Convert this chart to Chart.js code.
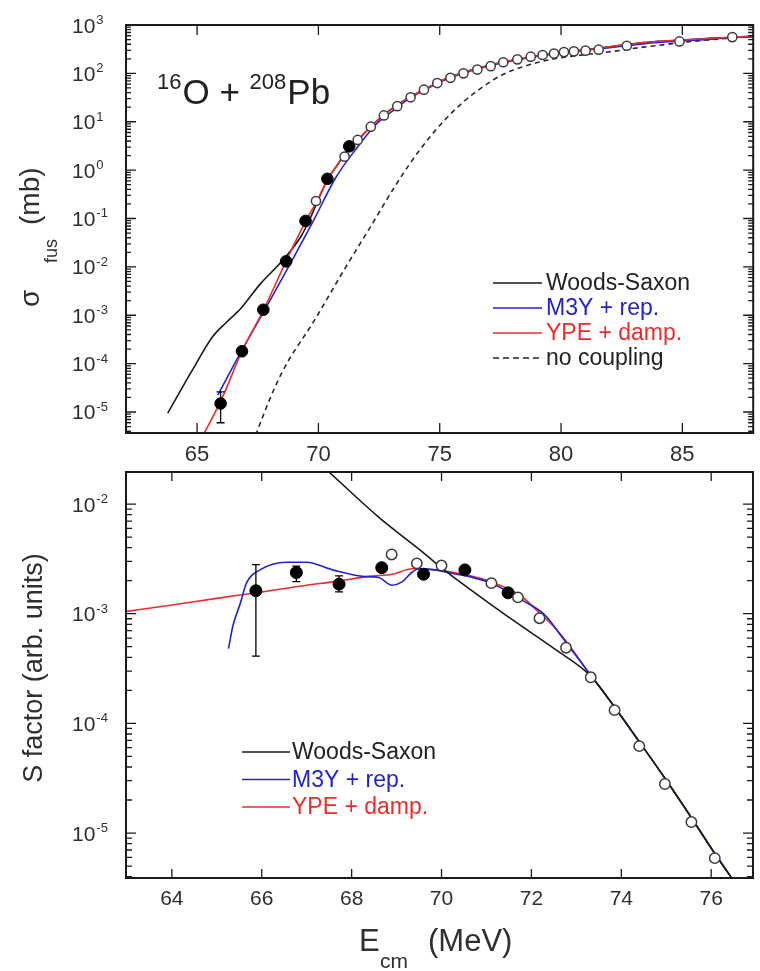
<!DOCTYPE html>
<html><head><meta charset="utf-8">
<script src="https://cdn.jsdelivr.net/npm/chart.js@4.4.0/dist/chart.umd.min.js"></script>
<style>
html,body{margin:0;padding:0;background:#fff;}
#wrap{position:relative;width:760px;height:971px;overflow:hidden;background:#fff;}
#c1{position:absolute;left:0;top:0;}
#c2{position:absolute;left:0;top:460px;}
</style></head><body>
<div id="wrap">
<canvas id="c1" width="760" height="475"></canvas>
<canvas id="c2" width="760" height="511"></canvas>
</div>
<script>
// ---------- tick labels ----------
const topXTicks = [65, 70, 75, 80, 85];
const topYTicks = [1e-5, 1e-4, 1e-3, 1e-2, 1e-1, 1, 10, 100, 1000];
const botXTicks = [64, 66, 68, 70, 72, 74, 76];
const botYTicks = [1e-5, 1e-4, 1e-3, 1e-2];

// ---------- top panel: sigma_fus (mb) vs Ecm ----------
const topFilledE = [65.97, 66.85, 67.73, 68.67, 69.47, 70.37, 71.27];
const topFilledSigma = [1.5e-5, 1.8e-4, 1.3e-3, 1.3e-2, 8.9e-2, 0.66, 3.1];
const topFilledErrLo = [6e-6, null, null, null, null, null, null];
const topFilledErrHi = [2.6e-5, null, null, null, null, null, null];

const topOpenE = [69.9, 71.08, 71.62, 72.16, 72.7, 73.25, 73.8, 74.35, 74.9, 75.44, 75.98, 76.55, 77.1, 77.62, 78.2, 78.75, 79.24, 79.71, 80.12, 80.53, 81.01, 81.55, 82.71, 84.88, 87.06];
const topOpenSigma = [0.23, 1.9, 4.2, 7.9, 13.5, 21, 32, 46, 63, 81, 100, 120, 141, 170, 195, 221, 240, 257, 275, 285, 295, 309, 372, 457, 562];

const topWsE = [63.79, 64.81, 65.63, 66.2, 66.8, 67.6, 68.5, 69.3, 69.7, 70.0, 70.37, 70.8, 71.27, 71.7, 72.16, 72.7, 73.2, 73.8, 74.4, 75, 76, 77, 78, 79, 80, 81, 82, 83, 84, 85, 86, 87, 87.92];
const topWsSigma = [9.5e-6, 7.4e-5, 3.55e-4, 7.1e-4, 1.38e-3, 4.4e-3, 1.32e-2, 4.4e-2, 0.112, 0.25, 0.63, 1.32, 2.9, 4.6, 7.9, 13.8, 21.4, 33, 47, 68, 105, 145, 186, 229, 269, 309, 355, 410, 460, 490, 525, 560, 580];

const topM3yE = [65.85, 66.85, 67.8, 68.9, 69.78, 70.7, 71.6, 72.4, 73.0, 73.8, 74.4, 75.0, 76.0, 77.0, 78.0, 79.0, 80.0, 81.0, 82.0, 83.0, 84.0, 85.0, 86.0, 87.0, 87.92];
const topM3ySigma = [2.24e-5, 1.9e-4, 1.32e-3, 1.32e-2, 8.7e-2, 0.68, 2.95, 9.1, 15.8, 31.6, 45.7, 66, 102, 141, 182, 224, 263, 302, 339, 389, 437, 468, 501, 550, 575];

const topYpeE = [65.3, 66.0, 66.85, 67.73, 68.67, 69.47, 69.96, 70.37, 70.8, 71.27, 71.7, 72.16, 72.7, 73.2, 73.8, 74.4, 75.0, 76.0, 77.0, 78.0, 79.0, 80.0, 81.0, 82.0, 83.0, 84.0, 85.0, 86.0, 87.0, 87.92];
const topYpeSigma = [3.7e-6, 1.8e-5, 1.8e-4, 1.26e-3, 1.32e-2, 8.7e-2, 0.24, 0.63, 1.32, 2.9, 4.6, 7.9, 13.8, 21.4, 33, 47, 68, 105, 145, 186, 229, 269, 309, 355, 410, 460, 490, 525, 560, 580];

const topNoCoupE = [67.3, 67.45, 68.48, 69.84, 71.06, 72.15, 73.24, 74.18, 75.1, 75.95, 76.89, 77.6, 78.5, 79.6, 81.2, 82.2, 83.2, 84.2, 85.0, 86.5, 87.92];
const topNoCoupSigma = [2.2e-6, 3.7e-6, 6.3e-5, 7.9e-4, 8.7e-3, 6.8e-2, 0.54, 2.63, 9.5, 25, 57.5, 95, 141, 195, 251, 288, 339, 389, 437, 513, 582];

// ---------- bottom panel: S factor vs Ecm ----------
const botFilledE = [65.87, 66.77, 67.72, 68.67, 69.6, 70.52, 71.48];
const botFilledS = [1.62e-3, 2.37e-3, 1.86e-3, 2.63e-3, 2.29e-3, 2.51e-3, 1.55e-3];
const botFilledErrLo = [4.1e-4, 1.96e-3, 1.58e-3, null, null, null, null];
const botFilledErrHi = [2.8e-3, 2.72e-3, 2.21e-3, null, null, null, null];

const botOpenE = [68.89, 69.45, 70.0, 71.11, 71.7, 72.18, 72.77, 73.32, 73.85, 74.4, 74.97, 75.56, 76.08];
const botOpenS = [3.47e-3, 2.88e-3, 2.75e-3, 1.9e-3, 1.41e-3, 9.1e-4, 4.9e-4, 2.63e-4, 1.32e-4, 6.2e-5, 2.8e-5, 1.26e-5, 5.9e-6];

const botWsE = [67.2, 67.5, 68.6, 69.56, 70.15, 70.81, 71.63, 72.54, 73.32, 73.85, 74.4, 74.97, 75.56, 76.08, 76.6];
const botWsS = [0.025, 0.0195, 7.6e-3, 3.7e-3, 2.34e-3, 1.48e-3, 8.5e-4, 4.7e-4, 2.7e-4, 1.41e-4, 6.8e-5, 3.16e-5, 1.38e-5, 6.5e-6, 3.2e-6];

const botM3yE = [65.26, 65.36, 65.52, 65.66, 65.96, 66.55, 66.99, 67.58, 68.24, 68.6, 68.9, 69.12, 69.35, 69.5, 69.86, 70.22, 70.6, 71.11, 71.85, 72.29, 72.73, 73.32, 73.85, 74.4, 74.97, 75.56, 76.08, 76.6];
const botM3yS = [4.8e-4, 7.8e-4, 1.23e-3, 1.9e-3, 2.51e-3, 2.95e-3, 2.95e-3, 2.51e-3, 2.19e-3, 2.14e-3, 1.82e-3, 1.95e-3, 2.4e-3, 2.57e-3, 2.51e-3, 2.34e-3, 2.19e-3, 1.9e-3, 1.29e-3, 9.8e-4, 5.75e-4, 2.75e-4, 1.41e-4, 6.8e-5, 3.16e-5, 1.38e-5, 6.5e-6, 3.2e-6];

const botYpeE = [63, 64, 65, 66, 67, 67.58, 68.39, 68.9, 69.35, 69.86, 70.59, 71.11, 71.77, 72.07, 72.5, 72.73, 73.32, 73.85, 74.4, 74.97, 75.56, 76.08, 76.6];
const botYpeS = [1.05e-3, 1.2e-3, 1.38e-3, 1.58e-3, 1.82e-3, 1.95e-3, 2.19e-3, 2.29e-3, 2.57e-3, 2.51e-3, 2.24e-3, 1.95e-3, 1.45e-3, 1.12e-3, 7.6e-4, 5.9e-4, 2.75e-4, 1.41e-4, 6.8e-5, 3.16e-5, 1.38e-5, 6.5e-6, 3.2e-6];

// ---------- helpers ----------
const FONT = '"Liberation Sans", Arial, sans-serif';
const TXT = '#2e2e33';
const BLUE = '#2323d6';
const RED = '#f22a2a';
const pts = (xs, ys) => xs.map((x, i) => ({x: x, y: ys[i]}));

function lineDs(label, xs, ys, color, dash) {
  return {label: label, data: pts(xs, ys), borderColor: color, backgroundColor: color,
    borderWidth: 1.6, pointRadius: 0, borderDash: dash || [], cubicInterpolationMode: 'monotone', fill: false};
}
function pointDs(label, xs, ys, filled, r, lo, hi) {
  return {label: label, data: pts(xs, ys), showLine: false, pointRadius: r,
    pointBackgroundColor: filled ? '#000' : '#fff', pointBorderColor: filled ? '#000' : '#3c3c3c',
    pointBorderWidth: filled ? 1 : 1.5, borderColor: '#000', backgroundColor: '#000', errLo: lo, errHi: hi};
}

function makeDecor(cfg) {
  return {
    id: 'decor',
    afterDatasetsDraw(chart) {
      const ctx = chart.ctx, ys = chart.scales.y;
      ctx.save();
      ctx.strokeStyle = '#000'; ctx.lineWidth = 1.3;
      chart.data.datasets.forEach((ds, di) => {
        if (!ds.errLo) return;
        const meta = chart.getDatasetMeta(di);
        ds.errLo.forEach((lo, i) => {
          if (lo == null) return;
          const x = meta.data[i].x;
          const y1 = ys.getPixelForValue(lo), y2 = ys.getPixelForValue(ds.errHi[i]);
          ctx.beginPath();
          ctx.moveTo(x, y1); ctx.lineTo(x, y2);
          ctx.moveTo(x - 4, y1); ctx.lineTo(x + 4, y1);
          ctx.moveTo(x - 4, y2); ctx.lineTo(x + 4, y2);
          ctx.stroke();
        });
      });
      ctx.restore();
    },
    afterDraw(chart) {
      const ctx = chart.ctx, a = chart.chartArea, xs = chart.scales.x, ys = chart.scales.y;
      ctx.save();
      // inward tick marks on all four sides
      ctx.strokeStyle = '#1a1a1a'; ctx.lineWidth = 1.3;
      ctx.beginPath();
      const lo = Math.floor(Math.log10(ys.min)), hi = Math.ceil(Math.log10(ys.max));
      for (let d = lo; d <= hi; d++) {
        for (let m = 1; m <= 9; m++) {
          const v = m * Math.pow(10, d);
          if (v < ys.min * 0.999 || v > ys.max * 1.001) continue;
          const y = ys.getPixelForValue(v);
          const L = m === 1 ? cfg.majorLen : cfg.minorLen;
          ctx.moveTo(a.left, y); ctx.lineTo(a.left + L, y);
          ctx.moveTo(a.right, y); ctx.lineTo(a.right - L, y);
        }
      }
      cfg.xTicks.forEach(v => {
        const x = xs.getPixelForValue(v);
        ctx.moveTo(x, a.top); ctx.lineTo(x, a.top + cfg.xLen);
        ctx.moveTo(x, a.bottom); ctx.lineTo(x, a.bottom - cfg.xLen);
      });
      ctx.stroke();
      // frame
      ctx.lineWidth = 2; ctx.strokeStyle = '#1a1a1a';
      ctx.strokeRect(a.left, a.top, a.right - a.left, a.bottom - a.top);
      // y tick labels 10^n
      ctx.fillStyle = TXT; ctx.textAlign = 'left'; ctx.textBaseline = 'alphabetic';
      cfg.yTicks.forEach(v => {
        const y = ys.getPixelForValue(v);
        const e = Math.round(Math.log10(v));
        ctx.font = '21px ' + FONT;
        ctx.fillText('10', 72, y + 7.5);
        const w = ctx.measureText('10').width;
        ctx.font = '13px ' + FONT;
        ctx.fillText(String(e), 72 + w + 1, y - 1);
      });
      // legend
      ctx.font = '23px ' + FONT; ctx.textBaseline = 'middle';
      cfg.legend.forEach((it, i) => {
        const y = cfg.legY + i * cfg.legDy;
        ctx.strokeStyle = it.color; ctx.lineWidth = 1.6;
        ctx.setLineDash(it.dash || []);
        ctx.beginPath(); ctx.moveTo(cfg.legX0, y); ctx.lineTo(cfg.legX1, y); ctx.stroke();
        ctx.setLineDash([]);
        ctx.fillStyle = it.text; ctx.fillText(it.label, cfg.legTx, y + 1);
      });
      if (cfg.extra) cfg.extra(ctx, chart);
      ctx.restore();
    }
  };
}

function seq(ctx, x, y, parts) {
  parts.forEach(p => {
    ctx.font = p[1] + 'px ' + FONT;
    ctx.fillText(p[0], x, y + (p[2] || 0));
    x += ctx.measureText(p[0]).width + (p[3] || 0);
  });
}

// ---------- top chart ----------
new Chart(document.getElementById('c1'), {
  type: 'line',
  data: {datasets: [
    pointDs('data', topOpenE, topOpenSigma, false, 4.6),
    pointDs('data', topFilledE, topFilledSigma, true, 5.8, topFilledErrLo, topFilledErrHi),
    lineDs('YPE + damp.', topYpeE, topYpeSigma, RED),
    lineDs('M3Y + rep.', topM3yE, topM3ySigma, BLUE),
    lineDs('Woods-Saxon', topWsE, topWsSigma, '#1a1a1a'),
    lineDs('no coupling', topNoCoupE, topNoCoupSigma, '#2a2a2a', [5, 4])
  ]},
  options: {
    responsive: false, animation: false, events: [],
    layout: {padding: {top: 25, right: 2, left: 0, bottom: 0}},
    plugins: {legend: {display: false}, tooltip: {enabled: false}},
    scales: {
      x: {type: 'linear', min: 62.07, max: 87.92,
        grid: {display: false, drawTicks: false}, border: {display: false},
        afterBuildTicks: s => { s.ticks = topXTicks.map(v => ({value: v})); },
        afterFit: s => { s.height = 42; },
        ticks: {autoSkip: false, maxRotation: 0, padding: 9, color: TXT, font: {family: FONT, size: 22}}},
      y: {type: 'logarithmic', min: 3.68e-6, max: 1000,
        grid: {display: false}, border: {display: false},
        afterBuildTicks: s => { s.ticks = topYTicks.map(v => ({value: v})); },
        afterFit: s => { s.width = 126; },
        ticks: {display: false}}
    }
  },
  plugins: [makeDecor({
    xTicks: topXTicks, yTicks: topYTicks, majorLen: 10, minorLen: 5, xLen: 10,
    legend: [
      {label: 'Woods-Saxon', color: '#1a1a1a', text: '#222'},
      {label: 'M3Y + rep.', color: BLUE, text: BLUE},
      {label: 'YPE + damp.', color: RED, text: RED},
      {label: 'no coupling', color: '#222', text: '#222', dash: [6, 4]}
    ],
    legX0: 493, legX1: 542, legTx: 546, legY: 283, legDy: 25,
    extra: (ctx) => {
      // reaction label
      ctx.fillStyle = '#222'; ctx.textBaseline = 'alphabetic';
      seq(ctx, 157, 104, [['16', 22, -15, 1], ['O', 35], [' + ', 35], ['208', 22, -15, 1], ['Pb', 35]]);
      // y title: sigma_fus (mb)
      ctx.save();
      ctx.translate(39, 307); ctx.rotate(-Math.PI / 2);
      ctx.fillStyle = TXT;
      ctx.font = '28px ' + FONT; ctx.fillText('σ', 0, 0);
      ctx.font = '18px ' + FONT; ctx.fillText('fus', 44, 18);
      ctx.font = '28px ' + FONT; ctx.fillText('(mb)', 82, 0);
      ctx.restore();
    }
  })]
});

// ---------- bottom chart ----------
new Chart(document.getElementById('c2'), {
  type: 'line',
  data: {datasets: [
    pointDs('data', botOpenE, botOpenS, false, 5.2),
    pointDs('data', botFilledE, botFilledS, true, 6, botFilledErrLo, botFilledErrHi),
    lineDs('Woods-Saxon', botWsE, botWsS, '#1a1a1a'),
    lineDs('M3Y + rep.', botM3yE, botM3yS, BLUE),
    lineDs('YPE + damp.', botYpeE, botYpeS, RED)
  ]},
  options: {
    responsive: false, animation: false, events: [],
    layout: {padding: {top: 12, right: 3, left: 0, bottom: 0}},
    plugins: {legend: {display: false}, tooltip: {enabled: false}},
    scales: {
      x: {type: 'linear', min: 62.98, max: 76.93,
        grid: {display: false, drawTicks: false}, border: {display: false},
        afterBuildTicks: s => { s.ticks = botXTicks.map(v => ({value: v})); },
        afterFit: s => { s.height = 93; },
        ticks: {autoSkip: false, maxRotation: 0, padding: 9, color: TXT, font: {family: FONT, size: 21}}},
      y: {type: 'logarithmic', min: 3.89e-6, max: 0.0196,
        grid: {display: false}, border: {display: false},
        afterBuildTicks: s => { s.ticks = botYTicks.map(v => ({value: v})); },
        afterFit: s => { s.width = 126; },
        ticks: {display: false}}
    }
  },
  plugins: [makeDecor({
    xTicks: botXTicks, yTicks: botYTicks, majorLen: 10, minorLen: 6, xLen: 9,
    legend: [
      {label: 'Woods-Saxon', color: '#1a1a1a', text: '#222'},
      {label: 'M3Y + rep.', color: BLUE, text: BLUE},
      {label: 'YPE + damp.', color: RED, text: RED}
    ],
    legX0: 242, legX1: 290, legTx: 292, legY: 292, legDy: 27.5,
    extra: (ctx) => {
      ctx.fillStyle = TXT; ctx.textBaseline = 'alphabetic';
      // y title
      ctx.save();
      ctx.translate(42, 208); ctx.rotate(-Math.PI / 2);
      ctx.textAlign = 'center'; ctx.font = '27px ' + FONT;
      ctx.fillText('S factor (arb. units)', 0, 0);
      ctx.restore();
      // x title
      ctx.textAlign = 'left';
      ctx.font = '31px ' + FONT; ctx.fillText('E', 359, 491);
      ctx.font = '21px ' + FONT; ctx.fillText('cm', 380, 508);
      ctx.font = '31px ' + FONT; ctx.fillText('(MeV)', 428, 491);
    }
  })]
});
</script>
</body></html>
